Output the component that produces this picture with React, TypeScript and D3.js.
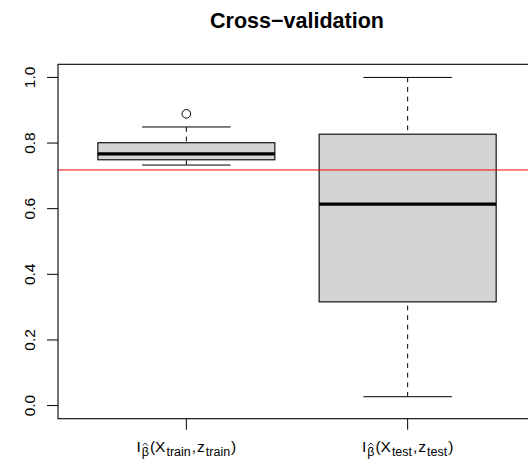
import React from "react";
import * as d3 from "d3";

// ---- data ----
const groups = ["train", "test"];
const whiskerLow = [0.733, 0.027];
const hingeLow = [0.749, 0.316];
const medians = [0.767, 0.614];
const hingeHigh = [0.801, 0.827];
const whiskerHigh = [0.849, 1.0];
const outliers: number[][] = [[0.889], []];
const refLine = 0.718;
const yTicks = [0, 0.2, 0.4, 0.6, 0.8, 1.0];
const title = "Cross\u2212validation";

const W = 528;
const H = 465;
const left = 58;
const right = 536;
const top = 64.3;
const bottom = 418.7;
const FONT = "'Liberation Sans', Arial, Helvetica, sans-serif";
const MAIN = 15.5;
const SUB = 12.5;

let ctx: CanvasRenderingContext2D | null = null;
function measure(t: string, size: number): number {
  if (!ctx) {
    const c = document.createElement("canvas");
    ctx = c.getContext("2d");
  }
  if (!ctx) return t.length * size * 0.55;
  ctx.font = `${size}px 'Liberation Sans', Arial, sans-serif`;
  return ctx.measureText(t).width;
}

function AxisLabel({ sub, cx, baseline }: { sub: string; cx: number; baseline: number }) {
  const pieces: { t: string; size: number; sub: boolean; hat?: boolean }[] = [
    { t: "I", size: MAIN, sub: false },
    { t: "β", size: SUB, sub: true, hat: true },
    { t: "(X", size: MAIN, sub: false },
    { t: sub, size: SUB, sub: true },
    { t: ",", size: MAIN, sub: false },
    { t: "z", size: MAIN, sub: false },
    { t: sub, size: SUB, sub: true },
    { t: ")", size: MAIN, sub: false },
  ];
  const gap = 1;
  const widths = pieces.map((p) => measure(p.t, p.size));
  const total = widths.reduce((a, b) => a + b, 0) + gap * (pieces.length - 1);
  let xx = cx - total / 2;
  const out: React.ReactNode[] = [];
  pieces.forEach((p, i) => {
    const yy = p.sub ? baseline + 4 : baseline;
    out.push(
      <text key={i} x={xx} y={yy} fontFamily={FONT} fontSize={p.size} fill="#000">
        {p.t}
      </text>
    );
    if (p.hat) {
      const hx = xx + widths[i] / 2;
      const hy = baseline - 9;
      out.push(
        <polyline
          key={"h" + i}
          points={`${hx - 2.6},${hy + 2.6} ${hx},${hy} ${hx + 2.6},${hy + 2.6}`}
          fill="none"
          stroke="#000"
          strokeWidth={0.9}
        />
      );
    }
    xx += widths[i] + gap;
  });
  return <g>{out}</g>;
}

export default function App() {
  const x = d3.scaleLinear().domain([0.42, 2.58]).range([left, right]);
  const y = d3.scaleLinear().domain([-0.04, 1.04]).range([bottom, top]);
  const boxHalf = x(1.4) - x(1);
  const stapleHalf = x(1.2) - x(1);

  return (
    <svg width={W} height={H} style={{ position: "absolute", left: 0, top: 0, background: "#fff" }}>
      <defs>
        <clipPath id="plotclip">
          <rect x={left} y={top} width={right - left} height={bottom - top} />
        </clipPath>
      </defs>
      <rect x={0} y={0} width={W} height={H} fill="#fff" />
      <text x={(left + right) / 2} y={27.5} textAnchor="middle" fontFamily={FONT} fontWeight="bold" fontSize={21.5}>
        {title}
      </text>

      {groups.map((g, i) => {
        const cx = x(i + 1);
        return (
          <g key={g}>
            <rect
              x={cx - boxHalf}
              y={y(hingeHigh[i])}
              width={2 * boxHalf}
              height={y(hingeLow[i]) - y(hingeHigh[i])}
              fill="#d3d3d3"
              stroke="#000"
              strokeWidth={1.1}
            />
            <line x1={cx - boxHalf} x2={cx + boxHalf} y1={y(medians[i])} y2={y(medians[i])} stroke="#000" strokeWidth={3.4} />
            <line x1={cx} x2={cx} y1={y(whiskerHigh[i])} y2={y(hingeHigh[i])} stroke="#000" strokeDasharray="4.8,4.8" />
            <line x1={cx} x2={cx} y1={y(whiskerLow[i])} y2={y(hingeLow[i])} stroke="#000" strokeDasharray="4.8,4.8" />
            <line x1={cx - stapleHalf} x2={cx + stapleHalf} y1={y(whiskerHigh[i])} y2={y(whiskerHigh[i])} stroke="#000" />
            <line x1={cx - stapleHalf} x2={cx + stapleHalf} y1={y(whiskerLow[i])} y2={y(whiskerLow[i])} stroke="#000" />
            {outliers[i].map((o, j) => (
              <circle key={j} cx={cx} cy={y(o)} r={4.3} fill="none" stroke="#000" />
            ))}
          </g>
        );
      })}

      <line clipPath="url(#plotclip)" x1={left} x2={right} y1={y(refLine)} y2={y(refLine)} stroke="#ff0000" strokeWidth={1} />

      <rect x={left} y={top} width={right - left} height={bottom - top} fill="none" stroke="#000" strokeWidth={1.1} />

      {yTicks.map((t) => (
        <g key={t}>
          <line x1={left - 11} x2={left} y1={y(t)} y2={y(t)} stroke="#000" />
          <text
            transform={`translate(${35},${y(t)}) rotate(-90)`}
            textAnchor="middle"
            fontFamily={FONT}
            fontSize={MAIN}
          >
            {t.toFixed(1)}
          </text>
        </g>
      ))}

      {groups.map((g, i) => (
        <line key={g} x1={x(i + 1)} x2={x(i + 1)} y1={bottom} y2={bottom + 11} stroke="#000" />
      ))}
      {groups.map((g, i) => (
        <AxisLabel key={g} sub={g} cx={x(i + 1)} baseline={452} />
      ))}
    </svg>
  );
}
